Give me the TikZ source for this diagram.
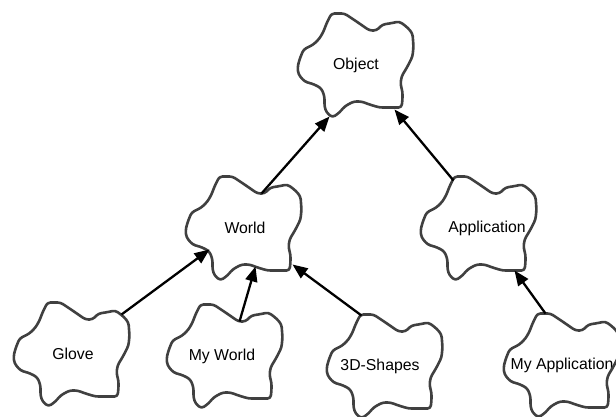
\documentclass[tikz,border=0pt]{standalone}
\usepackage{fontspec}
\setmainfont{Liberation Sans}
\usetikzlibrary{arrows.meta}

\definecolor{cloudgray}{HTML}{404040}

% Booch class cloud drawn round a named node, optionally moved by [dx,dy]
\newcommand{\classcloud}[2][0,0]{%
  \draw[cloudline, shift={(#2.center)}, shift={(#1)}]
    (-24,-52) -- (-11,-52) -- (1,-44) -- (14,-35) -- (21,-35) -- (27,-41) -- (34,-42) -- (44,-44)
    -- (52,-38) -- (57,-32) -- (58,-19) -- (57,-9) -- (52,1) -- (46,11) -- (45,19) -- (47,26)
    -- (47,34) -- (46,42) -- (24,42) -- (14,39) -- (6,36) -- (-2,36) -- (-11,41) -- (-16,47)
    -- (-23,52) -- (-29,47) -- (-31,41) -- (-31,31) -- (-34,23) -- (-41,19) -- (-51,16)
    -- (-57,9) -- (-58,2) -- (-56,-6) -- (-52,-16) -- (-42,-21) -- (-36,-27) -- (-32,-34)
    -- (-29,-42) -- cycle;}

\begin{document}
\begin{tikzpicture}[
    x=1pt, y={(0pt,-1pt)},
    classname/.style={inner sep=0pt, font=\fontsize{15.8}{18}\selectfont},
    cloudline/.style={draw=cloudgray, line width=2.6pt, rounded corners=3pt, line join=round},
    arrowstyle/.style={-{Triangle[length=15pt,width=12pt]}, line width=2.3pt, black}
]
    \useasboundingbox (0,0) rectangle (616,417);
    \clip (0,0) rectangle (616,417);

    \node[classname] (object) at (356,65.5) {Object};
    \node[classname] (world) at (245,228) {World};
    \node[classname] (application) at (487,228) {Application};
    \node[classname] (glove) at (73,354) {Glove};
    \node[classname] (myworld) at (222,356.5) {My World};
    \node[classname] (shapes) at (380,366.5) {3D-Shapes};
    \node[classname] (myapp) at (562,365.5) {My Application};

    \classcloud[-0.5,0]{object}
    \classcloud[-1.5,0.5]{world}
    \classcloud[-8.5,0.5]{application}
    \classcloud[-1.5,0.5]{glove}
    \classcloud[2.5,0]{myworld}
    \classcloud[4.5,0]{shapes}
    \classcloud[-0.5,0]{myapp}

    \draw[arrowstyle] ([shift={(16.5,-34.5)}]world.center) -- ([shift={(-26.5,51)}]object.center);
    \draw[arrowstyle] ([shift={(-33.5,-47.5)}]application.center) -- ([shift={(38.5,44)}]object.center);
    \draw[arrowstyle] ([shift={(48.5,-39.5)}]glove.center) -- ([shift={(-35.5,21.5)}]world.center);
    \draw[arrowstyle] ([shift={(17.5,-35)}]myworld.center) -- ([shift={(10.5,38.5)}]world.center);
    \draw[arrowstyle] ([shift={(-18.5,-51)}]shapes.center) -- ([shift={(47.5,36.5)}]world.center);
    \draw[arrowstyle] ([shift={(-16.5,-52)}]myapp.center) -- ([shift={(27.5,42.5)}]application.center);
\end{tikzpicture}
\end{document}
